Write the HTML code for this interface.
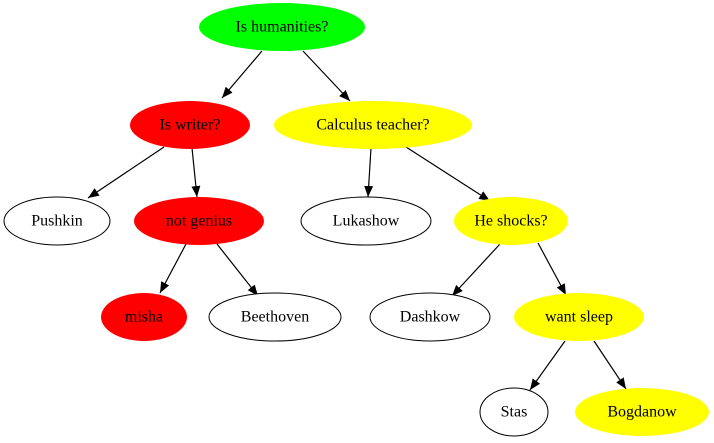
<!DOCTYPE html>
<html><head><meta charset="utf-8"><style>
html,body{margin:0;padding:0;background:#fff;width:714px;height:443px;overflow:hidden}
text{font-family:"Liberation Serif",serif;font-size:16px;text-anchor:middle;dominant-baseline:central}
</style></head><body>
<svg width="714" height="443" xmlns="http://www.w3.org/2000/svg">
<defs><marker id="a" markerUnits="userSpaceOnUse" markerWidth="12" markerHeight="10" refX="11" refY="4.5" orient="auto"><path d="M0,0 L11,4.5 L0,9 Z" fill="#000"/></marker></defs>
<g stroke="#000" stroke-width="1.2" marker-end="url(#a)">
<line x1="262" y1="51" x2="222" y2="98"/>
<line x1="303" y1="51" x2="350" y2="101"/>
<line x1="164" y1="147" x2="88" y2="198"/>
<line x1="192" y1="148" x2="197" y2="197"/>
<line x1="371" y1="148" x2="368" y2="197"/>
<line x1="406" y1="147" x2="490" y2="201"/>
<line x1="186" y1="244" x2="160" y2="293"/>
<line x1="217" y1="244" x2="258" y2="296"/>
<line x1="500" y1="244" x2="452" y2="296"/>
<line x1="538" y1="243" x2="566" y2="295"/>
<line x1="565" y1="341" x2="530" y2="390"/>
<line x1="594" y1="341" x2="626" y2="389"/>
</g>
<ellipse cx="282" cy="27" rx="83" ry="24" fill="#00ff00"/>
<ellipse cx="190" cy="125" rx="60" ry="24" fill="#ff0000"/>
<ellipse cx="373" cy="125" rx="99" ry="24" fill="#ffff00"/>
<ellipse cx="57" cy="221" rx="53" ry="24" fill="#fff" stroke="#000"/>
<ellipse cx="199" cy="221" rx="65" ry="24" fill="#ff0000"/>
<ellipse cx="366" cy="221" rx="65" ry="24" fill="#fff" stroke="#000"/>
<ellipse cx="511" cy="221" rx="57" ry="24" fill="#ffff00"/>
<ellipse cx="144" cy="317" rx="43" ry="24" fill="#ff0000"/>
<ellipse cx="275" cy="317" rx="66" ry="24" fill="#fff" stroke="#000"/>
<ellipse cx="430" cy="317" rx="60" ry="24" fill="#fff" stroke="#000"/>
<ellipse cx="579" cy="317" rx="65" ry="24" fill="#ffff00"/>
<ellipse cx="514" cy="412" rx="34" ry="24" fill="#fff" stroke="#000"/>
<ellipse cx="642" cy="412" rx="67" ry="24" fill="#ffff00"/>
<text x="282" y="27">Is humanities?</text>
<text x="190" y="125">Is writer?</text>
<text x="373" y="125">Calculus teacher?</text>
<text x="57" y="221">Pushkin</text>
<text x="199" y="221">not genius</text>
<text x="366" y="221">Lukashow</text>
<text x="511" y="221">He shocks?</text>
<text x="144" y="317">misha</text>
<text x="275" y="317">Beethoven</text>
<text x="430" y="317">Dashkow</text>
<text x="579" y="317">want sleep</text>
<text x="514" y="412">Stas</text>
<text x="642" y="412">Bogdanow</text>
</svg>
</body></html>
